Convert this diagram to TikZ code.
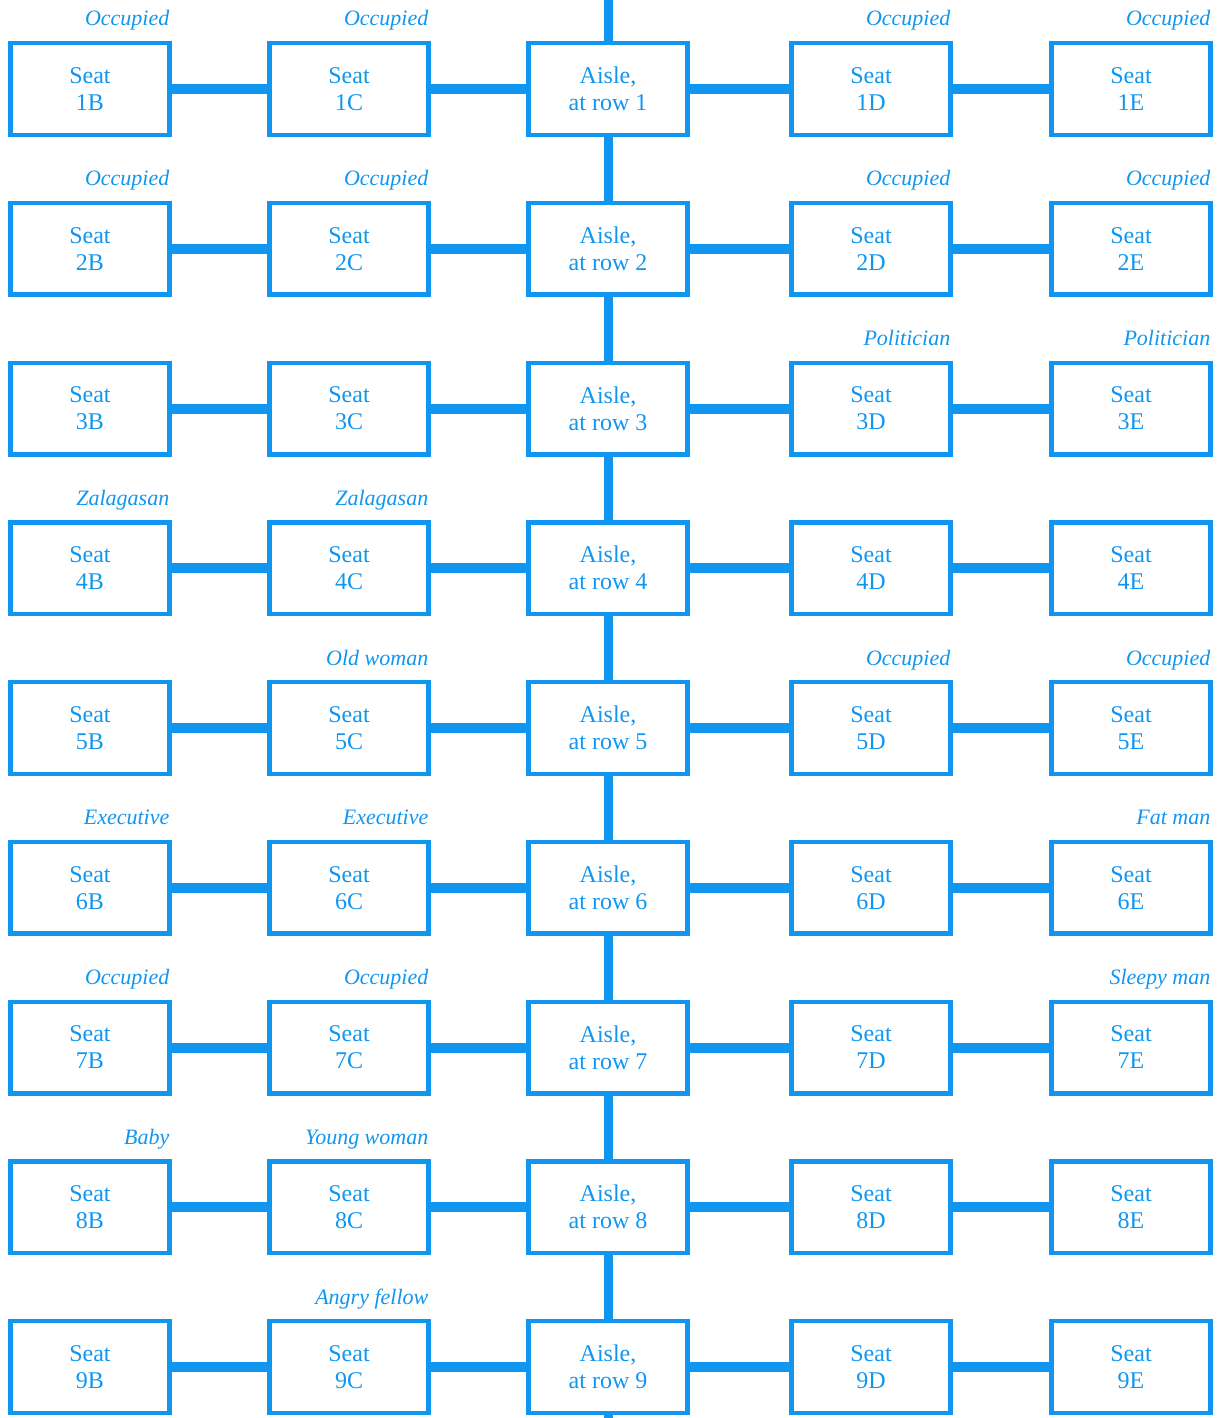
\documentclass[tikz,border=0pt]{standalone}
\usepackage{fontspec}
\setmainfont{Liberation Serif}
\usepackage{tikz}
\usetikzlibrary{positioning}
\usepackage{xcolor}
\definecolor{seatblue}{RGB}{16,150,240}

\tikzset{
  seatbox/.style={draw=seatblue,line width=2.2pt,minimum width=79.5pt,minimum height=45.8pt,
    align=center,inner sep=0pt,text=seatblue,font=\fontsize{12}{13.5}\selectfont},
  passenger/.style={anchor=base east,inner sep=0pt,text=seatblue,font=\fontsize{11}{13}\selectfont\itshape},
  link/.style={draw=seatblue,line width=5pt},
  aisleline/.style={draw=seatblue,line width=4.5pt}
}

\begin{document}
\begin{tikzpicture}[x=0.5pt,y=-0.5pt]
  \useasboundingbox (0,0) rectangle (1222,1418);
  % one row of the cabin per step
  \foreach \r in {1,...,9} {
    \pgfmathsetmacro{\yy}{89+(\r-1)*159.75}
    \node[seatbox] (b\r) at (90,\yy) {Seat\\\r B};
    \node[seatbox] (c\r) at (349,\yy) {Seat\\\r C};
    \node[seatbox] (a\r) at (608,\yy) {Aisle,\\at row \r};
    \node[seatbox] (d\r) at (871,\yy) {Seat\\\r D};
    \node[seatbox] (e\r) at (1131,\yy) {Seat\\\r E};
    \draw[link] (b\r) -- (c\r);
    \draw[link] (c\r) -- (a\r);
    \draw[link] (a\r) -- (d\r);
    \draw[link] (d\r) -- (e\r);
  }
  % the aisle itself
  \coordinate (aisletop) at (608,0);
  \coordinate (aislebottom) at (608,1418);
  \draw[aisleline] (aisletop) -- (a1);
  \foreach \r in {1,...,8} {
    \pgfmathtruncatemacro{\nx}{\r+1}
    \draw[aisleline] (a\r) -- (a\nx);
  }
  \draw[aisleline] (a9) -- (aislebottom);
  % who sits where
  \foreach \r/\col/\who in {1/b/Occupied,1/c/Occupied,1/d/Occupied,1/e/Occupied,
      2/b/Occupied,2/c/Occupied,2/d/Occupied,2/e/Occupied,
      3/d/Politician,3/e/Politician,
      4/b/Zalagasan,4/c/Zalagasan,
      5/c/Old woman,5/d/Occupied,5/e/Occupied,
      6/b/Executive,6/c/Executive,6/e/Fat man,
      7/b/Occupied,7/c/Occupied,7/e/Sleepy man,
      8/b/Baby,8/c/Young woman,
      9/c/Angry fellow} {
    \node[passenger] (p\r\col) at ([xshift=-1pt,yshift=7.5pt]\col\r.north east) {\who};
  }
\end{tikzpicture}
\end{document}
